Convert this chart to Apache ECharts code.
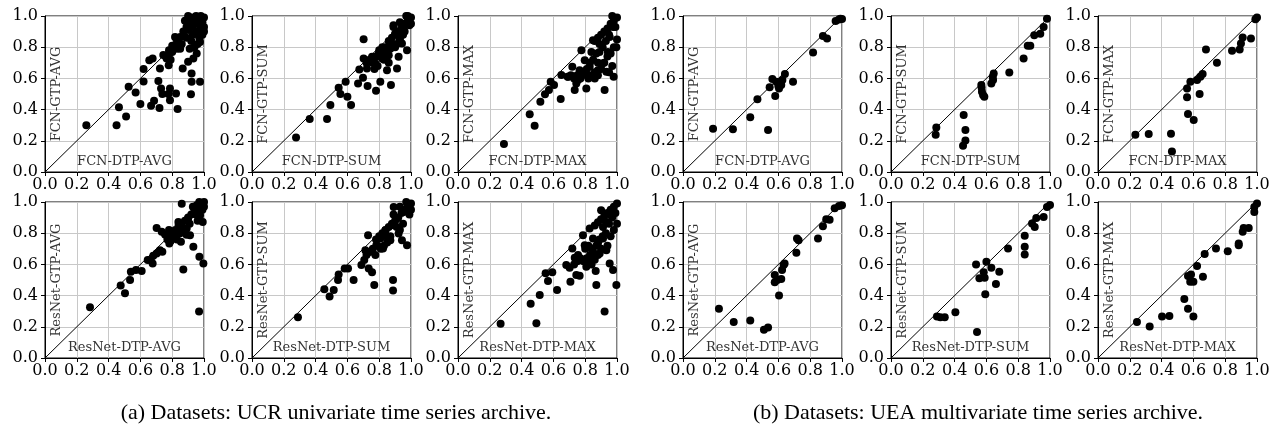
<!DOCTYPE html>
<html>
<head>
<meta charset="utf-8">
<script src="https://cdn.jsdelivr.net/npm/echarts@6/dist/echarts.min.js"></script>
<style>
html, body { margin: 0; padding: 0; background: #fff; }
#main { width: 1276px; height: 426px; }
</style>
</head>
<body>
<div id="main"></div>
<script>
// tick labels and the y = x reference line
var ticks = [0, 0.2, 0.4, 0.6, 0.8, 1.0];
var diag = [[0, 0], [1, 1]];

var xNames = ['FCN-DTP-AVG', 'FCN-DTP-SUM', 'FCN-DTP-MAX', 'FCN-DTP-AVG', 'FCN-DTP-SUM', 'FCN-DTP-MAX',
              'ResNet-DTP-AVG', 'ResNet-DTP-SUM', 'ResNet-DTP-MAX', 'ResNet-DTP-AVG', 'ResNet-DTP-SUM', 'ResNet-DTP-MAX'];
var yNames = ['FCN-GTP-AVG', 'FCN-GTP-SUM', 'FCN-GTP-MAX', 'FCN-GTP-AVG', 'FCN-GTP-SUM', 'FCN-GTP-MAX',
              'ResNet-GTP-AVG', 'ResNet-GTP-SUM', 'ResNet-GTP-MAX', 'ResNet-GTP-AVG', 'ResNet-GTP-SUM', 'ResNet-GTP-MAX'];
var captions = ['(a) Datasets: UCR univariate time series archive.', '(b) Datasets: UEA multivariate time series archive.'];

// UCR archive, [DTP accuracy, GTP accuracy]
var ucrFcnAvg = [[0.26,0.30],[0.45,0.30],[0.465,0.415],[0.51,0.355],[0.526,0.547],[0.57,0.51],[0.60,0.436],[0.62,0.66],[0.62,0.58],
  [0.656,0.717],[0.677,0.728],[0.667,0.425],[0.686,0.457],[0.72,0.41],[0.713,0.583],[0.723,0.664],[0.73,0.536],[0.738,0.50],
  [0.744,0.75],[0.765,0.728],[0.778,0.685],[0.78,0.78],[0.776,0.50],[0.786,0.46],[0.786,0.536],[0.80,0.81],[0.824,0.504],
  [0.834,0.404],[0.818,0.866],[0.85,0.79],[0.866,0.664],[0.85,0.866],[0.89,0.93],[0.90,0.706],[0.922,0.632],[0.922,0.579],
  [0.918,0.498],[0.933,0.728],[0.954,0.76],[0.975,0.579],[0.975,0.834],[0.88,0.97],[0.90,1.0],[0.91,0.96],[0.92,0.99],
  [0.93,0.93],[0.94,0.97],[0.95,1.0],[0.96,0.95],[0.97,0.98],[0.98,1.0],[0.99,0.96],[1.0,0.99],[0.90,0.91],[0.95,0.90],
  [0.98,0.92],[0.93,0.88],[0.97,0.86],[1.0,0.93],[0.92,0.84],[0.96,0.82],[0.89,0.86],[0.86,0.82],[0.83,0.79],[0.87,0.90],
  [0.99,0.88],[0.94,0.80],[1.0,0.90],[0.91,0.79],[0.76,0.74],[0.78,0.76],[0.80,0.77],[0.82,0.80],[0.79,0.72],[0.83,0.84]];
var ucrFcnSum = [[0.277,0.221],[0.363,0.34],[0.472,0.34],[0.493,0.43],[0.545,0.54],[0.556,0.50],[0.589,0.579],[0.60,0.483],
  [0.623,0.43],[0.667,0.568],[0.675,0.657],[0.698,0.604],[0.702,0.851],[0.702,0.728],[0.727,0.551],[0.723,0.664],[0.744,0.706],
  [0.755,0.738],[0.78,0.521],[0.776,0.696],[0.797,0.76],[0.807,0.579],[0.818,0.728],[0.828,0.781],[0.849,0.653],[0.86,0.749],
  [0.874,0.557],[0.874,0.823],[0.90,0.887],[0.912,0.664],[0.922,0.738],[0.89,0.94],[0.943,0.823],[0.954,0.909],[0.975,0.781],
  [0.985,0.972],[0.93,0.866],[0.72,0.70],[0.74,0.72],[0.76,0.70],[0.78,0.74],[0.80,0.78],[0.82,0.80],[0.84,0.80],[0.86,0.84],
  [0.88,0.86],[0.90,0.88],[0.92,0.90],[0.94,0.92],[0.96,0.95],[0.98,0.97],[1.0,0.99],[0.97,1.0],[0.99,0.94],[0.95,0.88],
  [0.93,0.85],[0.91,0.82],[0.87,0.79],[0.85,0.76],[0.83,0.72],[0.81,0.74],[0.77,0.66],[0.79,0.68],[0.96,0.90],[1.0,0.95],
  [0.89,0.93],[0.93,0.96],[0.98,1.0],[0.90,0.80],[0.86,0.70]];
var ucrFcnMax = [[0.289,0.179],[0.451,0.37],[0.482,0.296],[0.518,0.451],[0.547,0.498],[0.572,0.525],[0.583,0.579],[0.604,0.557],
  [0.646,0.468],[0.65,0.621],[0.692,0.61],[0.719,0.674],[0.734,0.525],[0.744,0.568],[0.755,0.589],[0.765,0.653],[0.776,0.781],
  [0.797,0.717],[0.807,0.536],[0.807,0.621],[0.828,0.674],[0.839,0.77],[0.849,0.845],[0.86,0.60],[0.88,0.653],[0.89,0.77],
  [0.908,0.696],[0.922,0.525],[0.933,0.642],[0.943,0.77],[0.954,0.866],[0.979,0.61],[0.975,0.93],[0.996,0.80],[0.86,0.84],
  [0.88,0.86],[0.90,0.88],[0.92,0.90],[0.94,0.92],[0.96,0.95],[0.98,0.97],[1.0,0.99],[0.97,1.0],[0.99,0.93],[0.95,0.88],
  [0.93,0.84],[0.91,0.80],[0.89,0.82],[0.87,0.76],[0.85,0.72],[0.83,0.70],[0.81,0.66],[0.79,0.64],[0.77,0.60],[0.75,0.62],
  [0.73,0.60],[0.71,0.62],[0.69,0.61],[0.82,0.60],[0.84,0.62],[0.86,0.64],[0.88,0.62],[0.90,0.66],[0.92,0.70],[0.94,0.74],
  [0.96,0.76],[0.98,0.80],[1.0,0.85],[0.97,0.68],[0.88,0.70],[0.95,0.64]];
var ucrResAvg = [[0.283,0.326],[0.476,0.464],[0.503,0.415],[0.535,0.50],[0.54,0.553],[0.572,0.564],[0.608,0.557],[0.646,0.628],
  [0.665,0.628],[0.677,0.606],[0.681,0.655],[0.702,0.67],[0.723,0.691],[0.738,0.681],[0.702,0.834],[0.734,0.809],[0.755,0.791],
  [0.782,0.734],[0.797,0.777],[0.818,0.809],[0.839,0.872],[0.849,0.83],[0.855,0.745],[0.87,0.568],[0.891,0.83],[0.90,0.894],
  [0.912,0.787],[0.933,0.713],[0.943,0.947],[0.86,0.989],[0.969,0.298],[0.971,0.649],[0.996,0.606],[0.992,0.872],[0.975,0.915],
  [0.954,0.979],[0.80,0.80],[0.82,0.82],[0.84,0.85],[0.86,0.86],[0.88,0.88],[0.90,0.90],[0.92,0.92],[0.94,0.94],[0.96,0.96],
  [0.98,0.98],[1.0,1.0],[0.97,1.0],[0.99,0.95],[0.93,0.97],[0.91,0.86],[0.87,0.82],[0.85,0.80],[0.83,0.76],[0.81,0.78],
  [0.79,0.75],[0.77,0.76],[0.76,0.79],[0.78,0.82],[0.89,0.79],[0.95,0.92],[1.0,0.97],[0.96,0.88]];
var ucrResSum = [[0.289,0.262],[0.455,0.44],[0.488,0.394],[0.514,0.436],[0.541,0.50],[0.545,0.536],[0.583,0.574],[0.604,0.574],
  [0.639,0.50],[0.688,0.596],[0.706,0.628],[0.713,0.691],[0.73,0.787],[0.734,0.574],[0.755,0.549],[0.769,0.468],[0.776,0.66],
  [0.782,0.723],[0.807,0.766],[0.824,0.702],[0.839,0.819],[0.849,0.777],[0.87,0.755],[0.887,0.50],[0.887,0.432],[0.891,0.851],
  [0.912,0.894],[0.922,0.798],[0.943,0.755],[0.975,0.723],[0.891,0.968],[0.954,0.936],[0.78,0.76],[0.80,0.78],[0.82,0.80],
  [0.84,0.82],[0.86,0.84],[0.88,0.86],[0.90,0.88],[0.92,0.90],[0.94,0.93],[0.96,0.95],[0.98,0.97],[1.0,0.99],[0.97,1.0],
  [0.99,0.92],[0.95,0.86],[0.93,0.82],[0.91,0.84],[0.87,0.78],[0.85,0.74],[0.83,0.72],[0.81,0.70],[0.79,0.72],[0.76,0.70],
  [0.74,0.68],[0.72,0.66],[0.89,0.92],[0.93,0.97],[1.0,0.95]];
var ucrResMax = [[0.268,0.219],[0.457,0.347],[0.493,0.223],[0.514,0.404],[0.551,0.543],[0.566,0.494],[0.593,0.549],[0.623,0.436],
  [0.681,0.596],[0.702,0.579],[0.707,0.489],[0.719,0.702],[0.734,0.643],[0.744,0.532],[0.755,0.66],[0.765,0.528],[0.776,0.628],
  [0.786,0.787],[0.797,0.723],[0.807,0.585],[0.813,0.628],[0.828,0.83],[0.839,0.702],[0.849,0.766],[0.866,0.557],[0.87,0.468],
  [0.88,0.734],[0.891,0.67],[0.912,0.766],[0.922,0.298],[0.933,0.691],[0.954,0.606],[0.975,0.564],[0.996,0.468],[0.90,0.947],
  [0.933,0.872],[0.964,0.915],[0.912,0.84],[0.86,0.85],[0.88,0.87],[0.90,0.89],[0.92,0.91],[0.94,0.93],[0.96,0.95],[0.98,0.97],
  [1.0,0.99],[0.99,0.93],[0.97,0.90],[0.95,0.86],[0.93,0.80],[0.91,0.78],[0.89,0.76],[0.87,0.72],[0.85,0.68],[0.83,0.66],
  [0.81,0.64],[0.79,0.62],[0.77,0.64],[0.75,0.62],[0.73,0.60],[0.84,0.60],[0.86,0.63],[0.88,0.66],[0.90,0.70],[0.94,0.72],
  [0.96,0.78],[1.0,0.86],[0.98,0.82],[0.82,0.72],[0.80,0.70]];

// UEA archive, [DTP accuracy, GTP accuracy]
var ueaFcnAvg = [[0.189,0.277],[0.314,0.274],[0.423,0.351],[0.468,0.466],[0.535,0.27],[0.545,0.543],[0.562,0.596],[0.58,0.487],
  [0.587,0.579],[0.604,0.536],[0.618,0.557],[0.625,0.589],[0.641,0.628],[0.692,0.579],[0.818,0.766],[0.88,0.872],[0.906,0.855],
  [0.96,0.968],[0.981,0.977],[0.99,0.983],[1.0,0.98],[0.61,0.56],[0.60,0.55]];
var ueaFcnSum = [[0.285,0.285],[0.281,0.238],[0.457,0.366],[0.468,0.27],[0.468,0.202],[0.453,0.168],[0.568,0.557],[0.572,0.515],
  [0.579,0.494],[0.587,0.483],[0.631,0.568],[0.642,0.589],[0.646,0.632],[0.744,0.638],[0.834,0.728],[0.86,0.809],[0.876,0.809],
  [0.901,0.877],[0.939,0.887],[0.96,0.93],[0.981,0.983],[0.57,0.54],[0.64,0.61]];
var ueaFcnMax = [[0.235,0.238],[0.319,0.243],[0.459,0.245],[0.465,0.132],[0.56,0.536],[0.56,0.479],[0.566,0.372],[0.581,0.579],
  [0.602,0.334],[0.623,0.589],[0.639,0.50],[0.644,0.611],[0.658,0.628],[0.679,0.785],[0.748,0.70],[0.843,0.777],[0.891,0.785],
  [0.899,0.823],[0.91,0.862],[0.962,0.855],[0.99,0.979],[1.0,0.99]];
var ueaResAvg = [[0.226,0.315],[0.319,0.23],[0.423,0.24],[0.509,0.181],[0.535,0.196],[0.604,0.40],[0.577,0.532],[0.577,0.485],
  [0.593,0.50],[0.618,0.506],[0.623,0.564],[0.633,0.596],[0.639,0.606],[0.713,0.674],[0.717,0.766],[0.727,0.755],[0.849,0.766],
  [0.88,0.845],[0.901,0.889],[0.922,0.887],[0.954,0.96],[0.981,0.974],[1.0,0.979]];
var ueaResSum = [[0.289,0.266],[0.31,0.262],[0.338,0.262],[0.405,0.294],[0.541,0.166],[0.535,0.60],[0.556,0.511],[0.583,0.549],
  [0.589,0.515],[0.593,0.409],[0.60,0.617],[0.631,0.579],[0.66,0.474],[0.681,0.553],[0.736,0.702],[0.841,0.783],[0.841,0.713],
  [0.841,0.664],[0.887,0.862],[0.904,0.84],[0.914,0.898],[0.96,0.904],[0.981,0.968],[1.0,0.98]];
var ueaResMax = [[0.245,0.23],[0.325,0.202],[0.403,0.266],[0.449,0.27],[0.543,0.379],[0.566,0.315],[0.566,0.526],[0.585,0.536],
  [0.58,0.489],[0.60,0.489],[0.60,0.266],[0.623,0.589],[0.66,0.521],[0.671,0.666],[0.742,0.702],[0.816,0.685],[0.885,0.734],
  [0.885,0.723],[0.91,0.809],[0.916,0.834],[0.948,0.834],[0.983,0.968],[0.983,0.936],[1.0,0.99]];

var panels = [ucrFcnAvg, ucrFcnSum, ucrFcnMax, ueaFcnAvg, ueaFcnSum, ueaFcnMax,
              ucrResAvg, ucrResSum, ucrResMax, ueaResAvg, ueaResSum, ueaResMax];

var lefts = [45, 252, 458, 683, 891, 1098];
var tops = [16, 202];
var font = 'DejaVu Serif';

var grids = [], xAxes = [], yAxes = [], series = [];
panels.forEach(function (pts, i) {
    var row = Math.floor(i / 6), col = i % 6;
    grids.push({
        left: lefts[col], top: tops[row], width: 159, height: 156,
        show: true, borderColor: '#000', borderWidth: 1, backgroundColor: 'transparent'
    });
    xAxes.push({
        type: 'value', gridIndex: i, min: 0, max: 1, interval: 0.2,
        name: xNames[i], nameLocation: 'middle', nameGap: -10,
        nameTextStyle: { fontFamily: font, fontSize: 13, color: '#333', verticalAlign: 'middle' },
        axisLine: { show: true, onZero: false, lineStyle: { color: '#000', width: 1 } },
        axisTick: { show: true, length: 4, lineStyle: { color: '#000' } },
        axisLabel: { fontFamily: font, fontSize: 16, color: '#000', margin: 5, showMinLabel: true, showMaxLabel: true,
                     formatter: function (v) { return v.toFixed(1); } },
        splitLine: { show: true, lineStyle: { color: '#c8c8c8', width: 1 } }
    });
    yAxes.push({
        type: 'value', gridIndex: i, min: 0, max: 1, interval: 0.2,
        name: yNames[i], nameLocation: 'middle', nameGap: -12,
        nameTextStyle: { fontFamily: font, fontSize: 13, color: '#333', verticalAlign: 'middle' },
        axisLine: { show: true, onZero: false, lineStyle: { color: '#000', width: 1 } },
        axisTick: { show: true, length: 4, lineStyle: { color: '#000' } },
        axisLabel: { fontFamily: font, fontSize: 16, color: '#000', margin: 7, showMinLabel: true, showMaxLabel: true,
                     formatter: function (v) { return v.toFixed(1); } },
        splitLine: { show: true, lineStyle: { color: '#c8c8c8', width: 1 } }
    });
    series.push({
        type: 'line', xAxisIndex: i, yAxisIndex: i, data: diag, symbol: 'none', silent: true, z: 2,
        lineStyle: { color: '#000', width: 1 }
    });
    series.push({
        type: 'scatter', xAxisIndex: i, yAxisIndex: i, data: pts, symbolSize: 8, z: 3,
        itemStyle: { color: '#000', opacity: 1 }
    });
});

var option = {
    animation: false,
    backgroundColor: '#fff',
    grid: grids,
    xAxis: xAxes,
    yAxis: yAxes,
    series: series,
    graphic: [
        { type: 'text', x: 336, y: 413, style: { text: captions[0], font: '22px "Liberation Serif"', fill: '#000', align: 'center', verticalAlign: 'middle' } },
        { type: 'text', x: 978, y: 413, style: { text: captions[1], font: '22px "Liberation Serif"', fill: '#000', align: 'center', verticalAlign: 'middle' } }
    ]
};

var myChart = echarts.init(document.getElementById('main'));
myChart.setOption(option);
</script>
</body>
</html>
